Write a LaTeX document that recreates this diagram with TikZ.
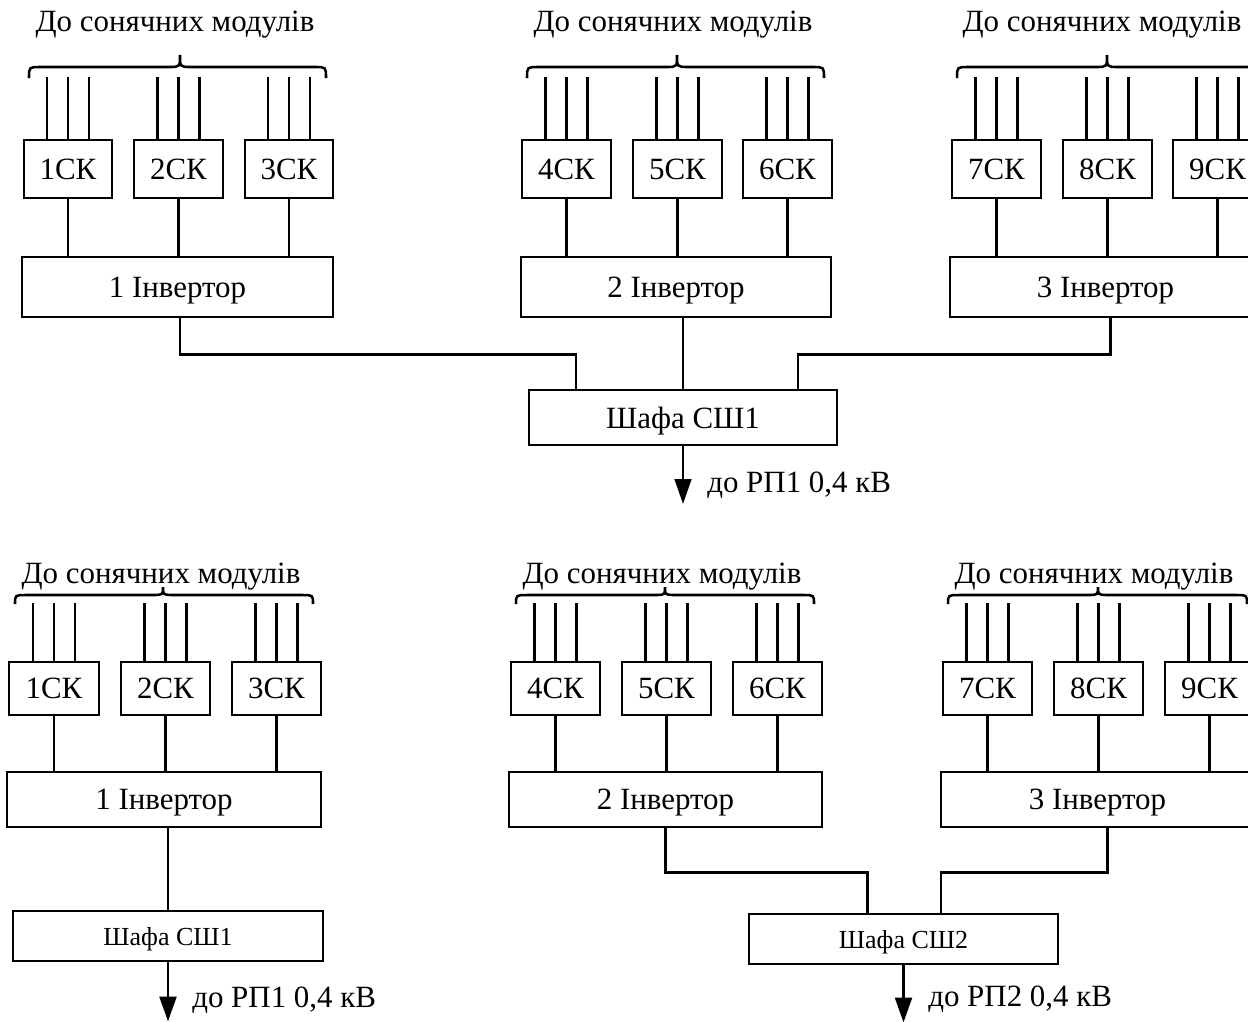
\documentclass[tikz,border=0pt]{standalone}
\usepackage{fontspec}
\setmainfont{Liberation Serif}
\usetikzlibrary{calc,arrows.meta}
\newcommand{\mkbox}[7]{\node[#1, minimum width={(#5-#3)*0.025cm}, minimum height={(#6-#4)*0.025cm}] (#2) at ({(#3+#5)/2},{(#4+#6)/2}) {#7};}
\newcommand{\stubs}[2]{\foreach \d in {-21,0,21} {\draw[ln] ($(#1.north)+(\d,0)$) -- ++(0,-#2);}}
\newcommand{\brc}[6]{\draw[brl] (#1,#4) .. controls (#1,#5) .. ({#1+11},#5) -- ({#3-11},#5) .. controls (#3,#5) .. (#3,#6) .. controls (#3,#5) .. ({#3+11},#5) -- ({#2-11},#5) .. controls (#2,#5) .. (#2,#4);}
\tikzset{
  bx/.style={draw, line width=2pt, inner sep=0pt, text depth=0pt, font=\fontsize{22}{26}\selectfont},
  bxthin/.style={bx, line width=1.3pt},
  bxsmall/.style={bx, font=\fontsize{18.5}{22}\selectfont},
  ln/.style={line width=2pt},
  lnthin/.style={line width=1.6pt},
  brl/.style={line width=1.8pt},
  lbl/.style={inner sep=0pt, font=\fontsize{22}{26}\selectfont},
  arr/.style={line width=1.3pt, -{Triangle[length=0.62cm,width=0.42cm]}},
  arrb/.style={line width=2pt, -{Triangle[length=0.62cm,width=0.42cm]}},
}
\begin{document}
\begin{tikzpicture}[x=0.025cm,y=-0.025cm]
\fill[white] (0,0) rectangle (1248,1021);
\useasboundingbox (0,0) rectangle (1248,1021);
\clip (0,0) rectangle (1248,1021);

% ================= TOP =================
\node[lbl, anchor=base] (t1) at (175,31) {До сонячних модулів};
\node[lbl, anchor=base] (t2) at (673,31) {До сонячних модулів};
\node[lbl, anchor=base] (t3) at (1102,31) {До сонячних модулів};
\brc{29}{326}{180}{78}{67}{55}
\brc{527}{824}{677}{78}{67}{55}
\brc{957}{1257}{1107}{78}{67}{55}

\mkbox{bx}{ck1}{24}{140}{112}{198}{1СК}
\mkbox{bx}{ck2}{134}{140}{223}{198}{2СК}
\mkbox{bx}{ck3}{245}{140}{333}{198}{3СК}
\mkbox{bx}{ck4}{522}{140}{611}{198}{4СК}
\mkbox{bx}{ck5}{633}{140}{722}{198}{5СК}
\mkbox{bx}{ck6}{743}{140}{832}{198}{6СК}
\mkbox{bx}{ck7}{952}{140}{1041}{198}{7СК}
\mkbox{bx}{ck8}{1063}{140}{1152}{198}{8СК}
\mkbox{bx}{ck9}{1173}{140}{1262}{198}{9СК}
\foreach \n in {ck1,ck2,ck3,ck4,ck5,ck6,ck7,ck8,ck9} {\stubs{\n}{62}}

\mkbox{bx}{inv1}{22}{257}{333}{317}{1 Інвертор}
\mkbox{bx}{inv2}{521}{257}{831}{317}{2 Інвертор}
\mkbox{bx}{inv3}{950}{257}{1261}{317}{3 Інвертор}
\foreach \c/\i in {ck1/inv1,ck2/inv1,ck3/inv1,ck4/inv2,ck5/inv2,ck6/inv2,ck7/inv3,ck8/inv3,ck9/inv3}
  {\draw[ln] (\c.south) -- (\c.south |- \i.north);}

\mkbox{bxthin}{sh1}{529}{390}{837}{445}{Шафа СШ1}
\draw[lnthin] ($(inv1.south)+(2.5,0)$) -- ++(0,36) -| ($(sh1.north west)+(48,0)$);
\draw[lnthin] (sh1.north) -- (sh1.north |- inv2.south);
\draw[lnthin] ($(inv3.south)+(5,0)$) -- ++(0,36) -| ($(sh1.north east)+(-40,0)$);
\draw[arr] (sh1.south) -- ++(0,58) coordinate (o1);
\node[lbl, anchor=base west] (l1) at (707,492) {до РП1 0,4 кВ};

% ================= BOTTOM =================
\node[lbl, anchor=base] (b1) at (161,583) {До сонячних модулів};
\node[lbl, anchor=base] (b2) at (662,583) {До сонячних модулів};
\node[lbl, anchor=base] (b3) at (1094,583) {До сонячних модулів};
\brc{15}{313}{163}{604}{595}{587}
\brc{516}{814}{665}{604}{595}{587}
\brc{948}{1247}{1098}{604}{595}{587}

\mkbox{bx}{bk1}{9}{662}{99}{715}{1СК}
\mkbox{bx}{bk2}{121}{662}{210}{715}{2СК}
\mkbox{bx}{bk3}{232}{662}{321}{715}{3СК}
\mkbox{bx}{bk4}{511}{662}{600}{715}{4СК}
\mkbox{bx}{bk5}{622}{662}{711}{715}{5СК}
\mkbox{bx}{bk6}{733}{662}{822}{715}{6СК}
\mkbox{bx}{bk7}{943}{662}{1032}{715}{7СК}
\mkbox{bx}{bk8}{1054}{662}{1143}{715}{8СК}
\mkbox{bx}{bk9}{1165}{662}{1254}{715}{9СК}
\foreach \n in {bk1,bk2,bk3,bk4,bk5,bk6,bk7,bk8,bk9} {\stubs{\n}{58}}

\mkbox{bx}{binv1}{7}{772}{321}{827}{1 Інвертор}
\mkbox{bx}{binv2}{509}{772}{822}{827}{2 Інвертор}
\mkbox{bx}{binv3}{941}{772}{1254}{827}{3 Інвертор}
\foreach \c/\i in {bk1/binv1,bk2/binv1,bk3/binv1,bk4/binv2,bk5/binv2,bk6/binv2,bk7/binv3,bk8/binv3,bk9/binv3}
  {\draw[ln] (\c.south) -- (\c.south |- \i.north);}

\mkbox{bxsmall}{bsh1}{13}{911}{323}{961}{Шафа СШ1}
\draw[ln] (bsh1.north) -- (bsh1.north |- binv1.south);
\draw[arrb] (bsh1.south) -- ++(0,59) coordinate (o2);
\node[lbl, anchor=base west] (l2) at (192,1007) {до РП1 0,4 кВ};

\mkbox{bxsmall}{bsh2}{749}{914}{1058}{964}{Шафа СШ2}
\draw[ln] (binv2.south) -- ++(0,44) -| ($(bsh2.north)+(-36,0)$);
\draw[ln] ($(binv3.south)+(10,0)$) -- ++(0,44) -| ($(bsh2.north)+(37.5,0)$);
\draw[arrb] (bsh2.south) -- ++(0,57) coordinate (o3);
\node[lbl, anchor=base west] (l3) at (928,1006) {до РП2 0,4 кВ};
\end{tikzpicture}
\end{document}
